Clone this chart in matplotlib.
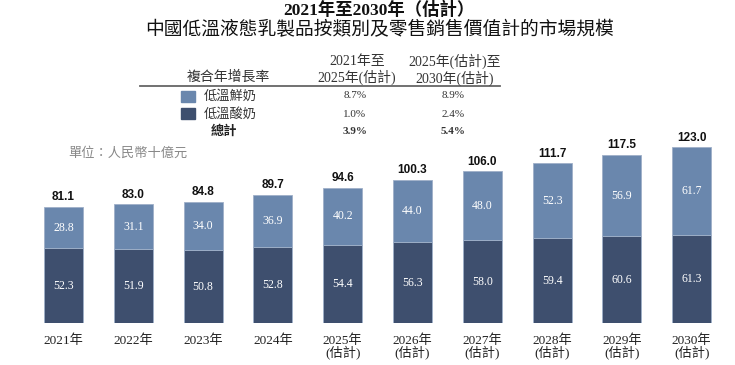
import matplotlib.pyplot as plt
from matplotlib.patches import Rectangle
from matplotlib.lines import Line2D

# data (RMB bn)
years = ["2021年", "2022年", "2023年", "2024年", "2025年\n(估計)", "2026年\n(估計)",
         "2027年\n(估計)", "2028年\n(估計)", "2029年\n(估計)", "2030年\n(估計)"]
yogurt = [52.3, 51.9, 50.8, 52.8, 54.4, 56.3, 58.0, 59.4, 60.6, 61.3]      # 低溫酸奶
fresh_milk = [28.8, 31.1, 34.0, 36.9, 40.2, 44.0, 48.0, 52.3, 56.9, 61.7]  # 低溫鮮奶
totals = [81.1, 83.0, 84.8, 89.7, 94.6, 100.3, 106.0, 111.7, 117.5, 123.0]

cagr_cols = ["2021年至\n2025年(估計)", "2025年(估計)至\n2030年(估計)"]
cagr_rows = ["低溫鮮奶", "低溫酸奶", "總計"]
cagr_vals = [["8.7%", "8.9%"], ["1.0%", "2.4%"], ["3.9%", "5.4%"]]

LIGHT = "#6a87ad"
DARK = "#3e4f6e"
SERIF = ["Liberation Serif", "Noto Sans CJK TC"]
CJK = ["Noto Sans CJK TC", "DejaVu Sans"]

W, H = 735, 365
fig = plt.figure(figsize=(W / 100, H / 100), dpi=100)


def fx(px):
    return px / W


def fy(py):
    return 1 - py / H


# bar area: baseline at y=323px, 1.43 px per unit
scale = 1.43
base_px, top_px = 323, 140
ax = fig.add_axes([0, fy(base_px), 1, (base_px - top_px) / H])
ax.set_ylim(0, (base_px - top_px) / scale)
x0, step = 63.5, 69.8
ax.set_xlim(-x0 / step, (W - x0) / step)

xs = range(len(years))
ax.bar(xs, yogurt, width=0.56, color=DARK, edgecolor="#9fb0c8", linewidth=0.6)
ax.bar(xs, fresh_milk, bottom=yogurt, width=0.56, color=LIGHT, edgecolor="#9fb0c8", linewidth=0.6)

for i in xs:
    ax.text(i, yogurt[i] / 2, f"{yogurt[i]:.1f}", ha="center", va="center",
            color="white", fontsize=8.5, family=SERIF)
    ax.text(i, yogurt[i] + fresh_milk[i] / 2, f"{fresh_milk[i]:.1f}", ha="center", va="center",
            color="white", fontsize=8.5, family=SERIF)
    ax.text(i, totals[i] + 2.5, f"{totals[i]:.1f}", ha="center", va="bottom",
            fontsize=8.5, fontweight="bold", family="Liberation Sans", color="#111111")

ax.set_xticks(list(xs))
ax.set_xticklabels(years, family=SERIF, fontsize=9.5, color="#222222")
for t in ax.get_xticklabels():
    t.set_linespacing(1.0)
ax.tick_params(axis="x", length=0, pad=8)
ax.set_yticks([])
for s in ax.spines.values():
    s.set_visible(False)
ax.patch.set_alpha(0)

# titles
fig.text(fx(379), fy(10), "2021年至2030年（估計）", ha="center", va="center",
         fontsize=12.5, fontweight="bold", family=SERIF, color="#111111")
fig.text(fx(380), fy(29.5), "中國低溫液態乳製品按類別及零售銷售價值計的市場規模", ha="center", va="center",
         fontsize=13.5, family=CJK, color="#111111")

# CAGR table
fig.text(fx(228), fy(77), "複合年增長率", ha="center", va="center", fontsize=10, family=CJK, color="#333333")
col_x = [357, 455]
for cx, head in zip(col_x, cagr_cols):
    fig.text(fx(cx), fy(70), head, ha="center", va="center", fontsize=10, family=SERIF,
             color="#333333", linespacing=1.1)
fig.add_artist(Line2D([fx(140), fx(500)], [fy(86), fy(86)], color="#666666", lw=1.3))

row_y = [96, 114, 131]
for r, (label, vals) in enumerate(zip(cagr_rows, cagr_vals)):
    bold = "bold" if r == 2 else "normal"
    if r < 2:
        fig.add_artist(Rectangle((fx(181), fy(row_y[r] + 5.5)), 14 / W, 11 / H,
                                 transform=fig.transFigure, color=[LIGHT, DARK][r]))
        fig.text(fx(230), fy(row_y[r]), label, ha="center", va="center", fontsize=9.5,
                 family=CJK, color="#333333")
    else:
        fig.text(fx(224), fy(row_y[r]), label, ha="center", va="center", fontsize=9.5,
                 family=CJK, fontweight="bold", color="#222222")
    for cx, v in zip(col_x, vals):
        fig.text(fx(cx - 2), fy(row_y[r]), v, ha="center", va="center", fontsize=8,
                 family=SERIF, fontweight=bold, color="#333333")

fig.text(fx(68), fy(153), "單位：人民幣十億元", ha="left", va="center", fontsize=9.5,
         family=CJK, color="#888888", style="italic")

fig.savefig("out.png", dpi=100)
